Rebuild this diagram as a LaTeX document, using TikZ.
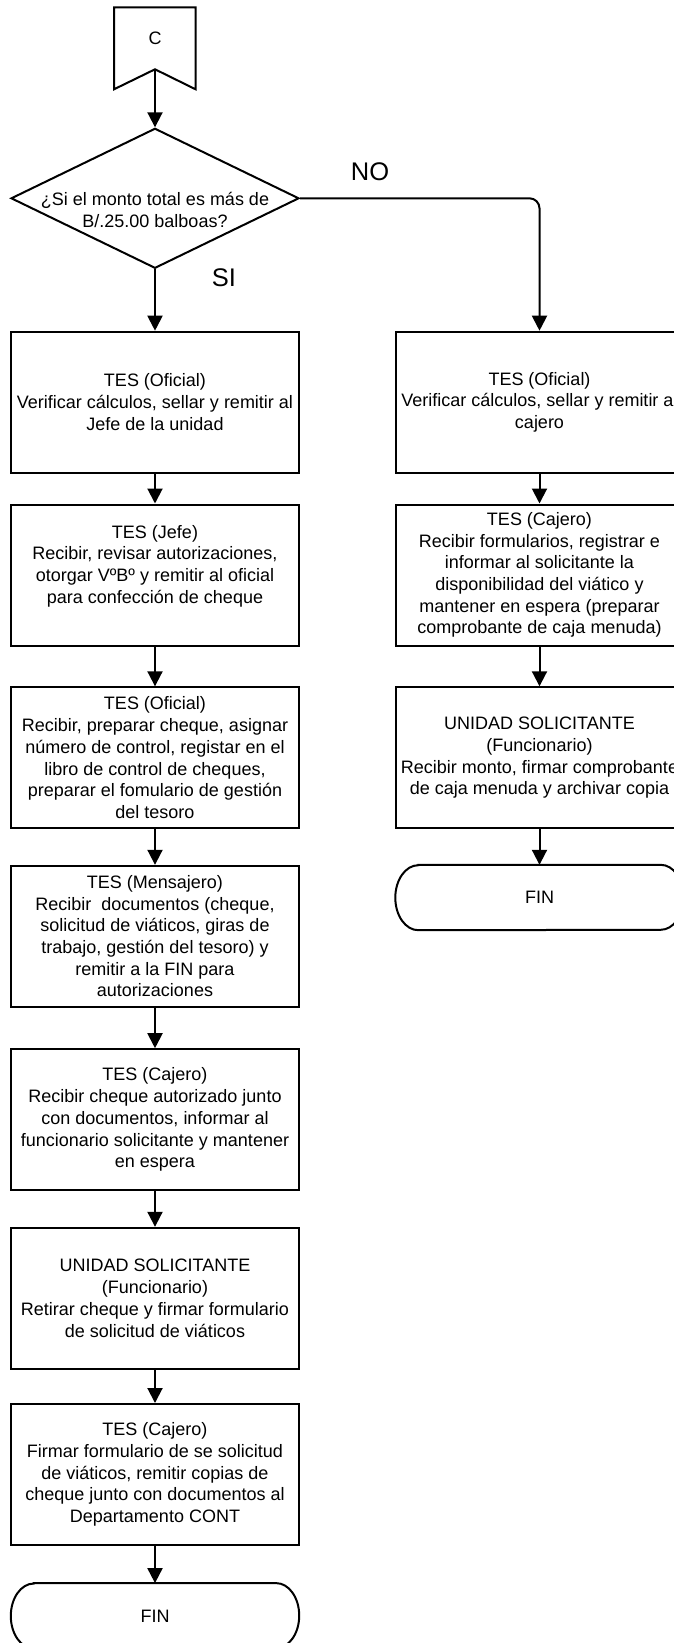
\documentclass[tikz,border=0pt]{standalone}
\usepackage{fontspec}
\setmainfont{Liberation Sans}
\usetikzlibrary{arrows.meta,shapes.geometric}
\tikzset{
  ln/.style={line width=2pt, draw=black},
  arr/.style={ln, -{Triangle[length=15pt,width=15pt]}},
  proc/.style={ln, draw, rectangle, minimum width=288pt, minimum height=141pt, inner sep=0pt, align=center, font=\fontsize{18}{21.7}\selectfont},
  termb/.style={rectangle, minimum width=288pt, minimum height=65pt, inner sep=0pt, font=\fontsize{18}{21.7}\selectfont},
  lbl/.style={font=\fontsize{25.5}{28}\selectfont, inner sep=0pt},
  txt/.style={align=center, inner sep=0pt, font=\fontsize{18}{21.7}\selectfont}
}
\begin{document}
\begin{tikzpicture}[x=1pt,y=-1pt]
\useasboundingbox (0,0) rectangle (674,1643);
\clip (0,0) rectangle (674,1643);
% off-page connector C
\coordinate (ctl) at (114,7.3);
\coordinate (ctr) at (195.6,7.3);
\coordinate (cbr) at (195.6,89.3);
\coordinate (cbl) at (114,89.3);
\coordinate (cn) at (155,69.3);
\draw[ln, line join=miter] (ctl) -- (ctr) -- (cbr) -- (cn) -- (cbl) -- cycle;
\node[inner sep=0pt, font=\fontsize{18}{20}\selectfont] (ctext) at (155,38.7) {C};
% decision
\node[ln, draw, shape=diamond, shape aspect=2.06, minimum width=288pt, minimum height=140pt, inner sep=0pt] (dec) at (155,198.3) {};
\node[txt] (dectext) at (155,210.3) {¿Si el monto total es más de\\B/.25.00 balboas?};
\draw[arr] (cn) -- (dec.north);
\node[lbl] (no) at (370,172) {NO};
\node[lbl] (si) at (224,278) {SI};
% left column
\node[proc] (b1) at (155,402.2) {TES (Oficial)\\Verificar cálculos, sellar y remitir al\\Jefe de la unidad};
\node[proc] (b2) at (155,575) {TES (Jefe)\\Recibir, revisar autorizaciones,\\otorgar VºBº y remitir al oficial\\para confección de cheque\\\mbox{}};
\node[proc] (b3) at (155,757.8) {TES (Oficial)\\Recibir, preparar cheque, asignar\\número de control, registar en el\\libro de control de cheques,\\preparar el fomulario de gestión\\del tesoro};
\node[proc] (b4) at (155,936.3) {TES (Mensajero)\\Recibir~ documentos (cheque,\\solicitud de viáticos, giras de\\trabajo, gestión del tesoro) y\\remitir a la FIN para\\autorizaciones};
\node[proc] (b5) at (155,1119.7) {TES (Cajero)\\Recibir cheque autorizado junto\\con documentos, informar al\\funcionario solicitante y mantener\\en espera};
\node[proc] (b6) at (155,1298.3) {UNIDAD SOLICITANTE\\(Funcionario)\\Retirar cheque y firmar formulario\\de solicitud de viáticos};
\node[proc] (b7) at (155,1474.5) {TES (Cajero)\\Firmar formulario de se solicitud\\de viáticos, remitir copias de\\cheque junto con documentos al\\Departamento CONT};
\node[termb] (fin1) at (155,1615.8) {FIN};
% right column
\node[proc] (r1) at (539.5,402.2) {TES (Oficial)\\Verificar cálculos, sellar y remitir al\\cajero};
\node[proc] (r2) at (539.5,575) {TES (Cajero)\\Recibir formularios, registrar e\\informar al solicitante la\\disponibilidad del viático y\\mantener en espera (preparar\\comprobante de caja menuda)};
\node[proc] (r3) at (539.5,757.8) {UNIDAD SOLICITANTE\\(Funcionario)\\Recibir monto, firmar comprobante\\de caja menuda y archivar copia};
\node[termb] (fin2) at (539.5,897.5) {FIN};
% terminator outlines
\foreach \t in {fin1,fin2}{
  \draw[ln] ([xshift=23pt]\t.north west) -- ([xshift=-23pt]\t.north east)
    arc[start angle=90,end angle=-90,x radius=23pt,y radius=32.5pt]
    -- ([xshift=23pt]\t.south west)
    arc[start angle=270,end angle=90,x radius=23pt,y radius=32.5pt] -- cycle;
}
% connectors
\draw[arr] (dec.south) -- (b1.north);
\draw[arr] (b1) -- (b2);
\draw[arr] (b2) -- (b3);
\draw[arr] (b3) -- (b4);
\draw[arr] (b4) -- (b5);
\draw[arr] (b5) -- (b6);
\draw[arr] (b6) -- (b7);
\draw[arr] (b7) -- (fin1);
\draw[arr, rounded corners=10pt] (dec.east) -| (r1.north);
\draw[arr] (r1) -- (r2);
\draw[arr] (r2) -- (r3);
\draw[arr] (r3) -- (fin2);
\end{tikzpicture}
\end{document}
